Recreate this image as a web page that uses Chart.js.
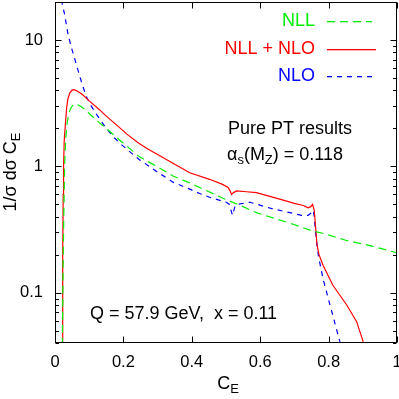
<!DOCTYPE html>
<html><head><meta charset="utf-8">
<script src="https://cdn.jsdelivr.net/npm/chart.js@4.4.1/dist/chart.umd.min.js"></script>
<style>html,body{margin:0;padding:0;background:#fff;} canvas{display:block;}</style>
</head><body>
<canvas id="c" width="399" height="399"></canvas>
<script>
const FONT = '"Liberation Sans", Arial, Helvetica, sans-serif';

// NLL (green dashed)
const nllCE  = [0.021,0.024,0.026,0.028,0.031,0.035,0.040,0.045,0.052,0.060,0.070,0.080,0.091,0.100,0.130,0.150,0.179,0.210,0.245,0.300,0.345,0.394,0.423,0.491,0.550,0.589,0.687,0.750,0.794,0.850,0.921,1.0];
const nllVal = [0.03,0.2,0.45,1.0,1.6,2.15,2.6,2.85,3.05,3.12,3.05,2.92,2.78,2.62,2.21,2.0,1.70,1.45,1.2,0.99,0.84,0.74,0.68,0.56,0.48,0.43,0.355,0.31,0.29,0.26,0.236,0.207];

// NLL + NLO (red solid)
const nlonllCE  = [0.021,0.0225,0.024,0.025,0.027,0.030,0.034,0.0375,0.043,0.050,0.056,0.065,0.081,0.100,0.130,0.150,0.179,0.210,0.243,0.270,0.300,0.350,0.394,0.452,0.490,0.506,0.512,0.516,0.522,0.531,0.560,0.589,0.657,0.700,0.726,0.740,0.748,0.753,0.758,0.762,0.766,0.772,0.784,0.813,0.853,0.882,0.901,0.91];
const nlonllVal = [0.03,0.2,0.6,1.0,1.6,2.1,2.9,3.4,3.8,4.02,4.05,3.95,3.69,3.3,2.81,2.5,2.14,1.8,1.54,1.38,1.24,1.04,0.89,0.79,0.72,0.68,0.64,0.60,0.62,0.64,0.63,0.62,0.55,0.51,0.49,0.47,0.48,0.50,0.45,0.33,0.24,0.20,0.164,0.114,0.080,0.059,0.041,0.035];

// NLO (blue short dashes)
const nloCE  = [0.016,0.020,0.028,0.0375,0.047,0.057,0.067,0.077,0.091,0.106,0.125,0.145,0.169,0.194,0.233,0.247,0.300,0.345,0.394,0.423,0.452,0.501,0.510,0.519,0.526,0.531,0.570,0.638,0.687,0.721,0.740,0.750,0.755,0.758,0.762,0.770,0.784,0.804,0.833,0.84];
const nloVal = [30,20,16,11.3,8.9,7.2,5.8,4.7,3.6,3.0,2.5,2.08,1.73,1.49,1.21,1.13,0.9,0.75,0.66,0.61,0.57,0.52,0.50,0.41,0.48,0.50,0.52,0.46,0.43,0.41,0.41,0.43,0.45,0.40,0.30,0.197,0.128,0.080,0.041,0.036];

const xTickValues = [0,0.2,0.4,0.6,0.8,1];
const xTickLabels = ['0','0.2','0.4','0.6','0.8','1'];
const yTickValues = [0.04,0.05,0.06,0.07,0.08,0.09,0.1,0.2,0.3,0.4,0.5,0.6,0.7,0.8,0.9,1,2,3,4,5,6,7,8,9,10,20];
const yMajorValues = [0.1,1,10];
const yMajorLabels = ['0.1','1','10'];

const GREEN = '#00ee00', RED = '#ff0000', BLUE = '#0000ff';

function pts(xs, ys){ return xs.map((x,i)=>({x:x, y:ys[i]})); }

function richText(ctx, parts, x, y, size, color, align){
  let w = 0;
  const widths = parts.map(p=>{ ctx.font = (p[1]? size*0.72 : size)+'px '+FONT; const m = ctx.measureText(p[0]).width; w+=m; return m;});
  let cx = align==='center' ? x - w/2 : (align==='right' ? x - w : x);
  ctx.fillStyle = color; ctx.textBaseline = 'middle'; ctx.textAlign = 'left';
  parts.forEach((p,i)=>{
    ctx.font = (p[1]? size*0.72 : size)+'px '+FONT;
    ctx.fillText(p[0], cx, p[1] ? y + size*0.3 : y);
    cx += widths[i];
  });
}

const decor = {
  id:'decor',
  afterDraw(chart){
    const ctx = chart.ctx, a = chart.chartArea;
    const xs = chart.scales.x, ys = chart.scales.y;
    ctx.save();
    ctx.strokeStyle = '#000'; ctx.lineWidth = 1; ctx.setLineDash([]);
    const L = Math.round(a.left)+0.5, R = Math.round(a.right)-0.5, T = Math.round(a.top)+0.5, B = Math.round(a.bottom)-0.5;
    ctx.beginPath();
    xTickValues.forEach(v=>{
      const px = Math.round(xs.getPixelForValue(v))+0.5;
      ctx.moveTo(px,B); ctx.lineTo(px,B-6);
      ctx.moveTo(px,T); ctx.lineTo(px,T+6);
    });
    yTickValues.forEach(v=>{
      const py = Math.round(ys.getPixelForValue(v))+0.5;
      const len = yMajorValues.includes(v) ? 6 : 3.5;
      ctx.moveTo(L,py); ctx.lineTo(L+len,py);
      ctx.moveTo(R,py); ctx.lineTo(R-len,py);
    });
    ctx.stroke();
    ctx.strokeRect(L,T,R-L,B-T);

    // legend
    const legend = [['NLL',GREEN,[8,5],21],['NLL + NLO',RED,[49,0],49],['NLO',BLUE,[5,5],76]];
    legend.forEach(l=>{
      ctx.font = '18px '+FONT; ctx.fillStyle = l[1]; ctx.textAlign='right'; ctx.textBaseline='middle';
      ctx.fillText(l[0], 315, l[3]);
      const dash = l[2][0], gap = l[2][1];
      const end = gap ? 372 : 376;
      for (let x = 327; x < end; x += dash + gap) {
        ctx.fillRect(x, l[3], Math.min(dash, end - x), 1.3);
      }
    });

    richText(ctx, [['Pure PT results',false]], 228, 129, 18, '#000', 'left');
    richText(ctx, [['α',false],['s',true],['(M',false],['Z',true],[') = 0.118',false]], 227, 155, 18, '#000', 'left');
    richText(ctx, [['Q = 57.9 GeV,  x = 0.11',false]], 90, 314, 18, '#000', 'left');

    richText(ctx, [['C',false],['E',true]], 228, 384, 18, '#000', 'center');
    ctx.translate(11, 172); ctx.rotate(-Math.PI/2);
    richText(ctx, [['1/σ dσ C',false],['E',true]], 0, 0, 18, '#000', 'center');
    ctx.restore();
  }
};

new Chart(document.getElementById('c'), {
  type:'line',
  data:{ datasets:[
    {label:'NLL', data:pts(nllCE,nllVal), borderColor:GREEN, borderWidth:1.2, borderDash:[8,5], pointRadius:0, fill:false, tension:0},
    {label:'NLL + NLO', data:pts(nlonllCE,nlonllVal), borderColor:RED, borderWidth:1.2, pointRadius:0, fill:false, tension:0},
    {label:'NLO', data:pts(nloCE,nloVal), borderColor:BLUE, borderWidth:1.2, borderDash:[5,5], pointRadius:0, fill:false, tension:0}
  ]},
  options:{
    responsive:false, animation:false, events:[],
    layout:{padding:{left:0,right:2,top:2,bottom:0}},
    plugins:{legend:{display:false}, tooltip:{enabled:false}},
    scales:{
      x:{type:'linear', min:0, max:1,
        afterBuildTicks:(s)=>{ s.ticks = xTickValues.map(v=>({value:v})); },
        afterFit:(s)=>{ s.height = 56; s.paddingLeft=0; s.paddingRight=0; s.paddingTop=0; s.paddingBottom=0; },
        grid:{display:false, drawTicks:false}, border:{display:false},
        ticks:{padding:10, color:'#000', font:{family:FONT,size:16.5}, maxRotation:0, autoSkip:false,
          callback:(v)=>{ const i = xTickValues.indexOf(v); return i>=0 ? xTickLabels[i] : ''; }}
      },
      y:{type:'logarithmic', min:0.04, max:20,
        afterBuildTicks:(s)=>{ s.ticks = yTickValues.map(v=>({value:v})); },
        afterFit:(s)=>{ s.width = 55; s.paddingLeft=0; s.paddingRight=0; s.paddingTop=0; s.paddingBottom=0; },
        grid:{display:false, drawTicks:false}, border:{display:false},
        ticks:{padding:12, color:'#000', font:{family:FONT,size:16.5}, autoSkip:false,
          callback:(v)=>{ const i = yMajorValues.findIndex(m=>Math.abs(m-v)<1e-9); return i>=0 ? yMajorLabels[i] : ''; }}
      }
    }
  },
  plugins:[decor]
});
</script>
</body></html>
